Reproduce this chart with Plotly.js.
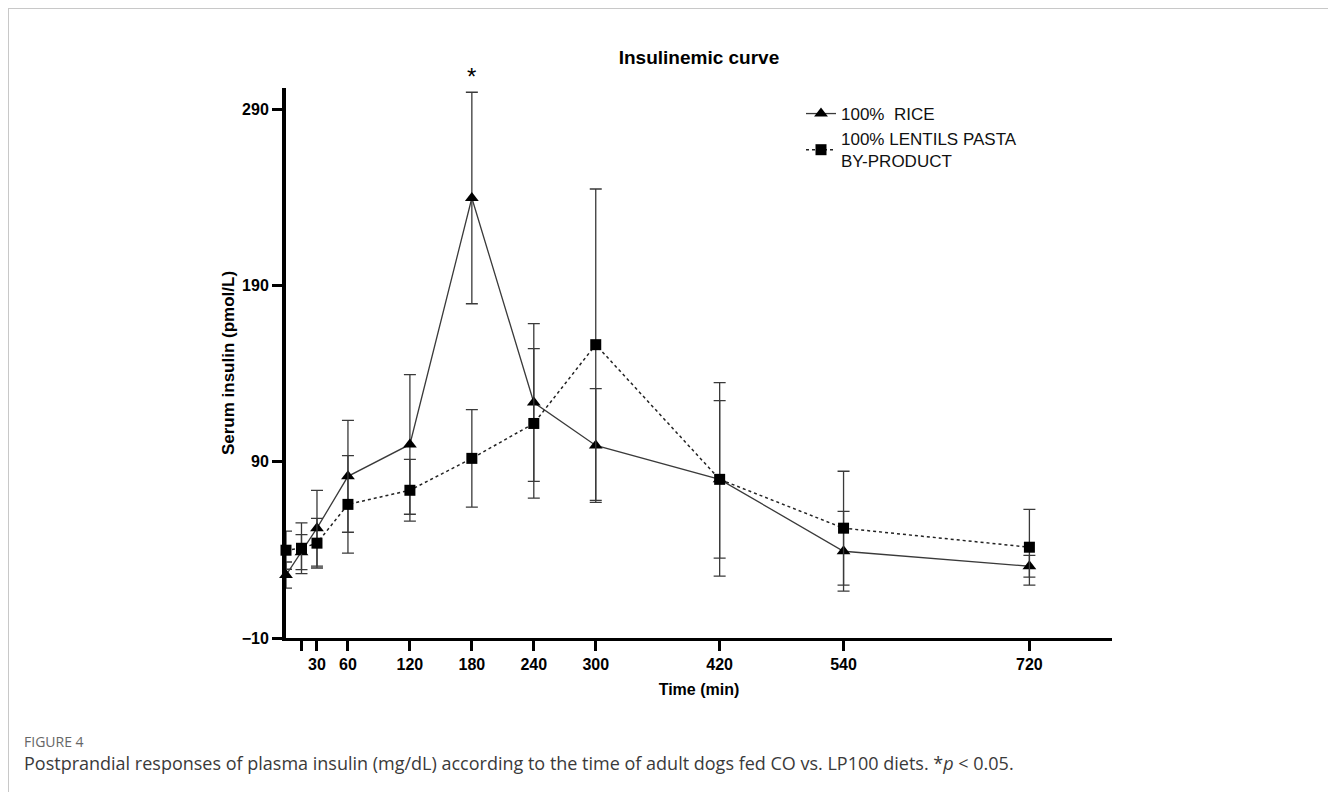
<!DOCTYPE html>
<html>
<head>
<meta charset="utf-8">
<script src="https://cdn.plot.ly/plotly-3.0.1.min.js"></script>
<style>
  html, body { margin: 0; padding: 0; background: #fff; }
  #wrap { position: relative; width: 1328px; height: 792px; overflow: hidden; }
  #chart { position: absolute; left: 0; top: 0; width: 1328px; height: 792px; }
  #frame { position: absolute; left: 8px; top: 8px; width: 1330px; height: 800px; border: 1px solid #c8c8c8; pointer-events: none; }
</style>
</head>
<body>
<div id="wrap">
  <div id="chart"></div>
  <div id="frame"></div>
</div>
<script>
// Time points (min)
const times = [0, 15, 30, 60, 120, 180, 240, 300, 420, 540, 720];
// 100% RICE
const riceMean = [25.7, 38.7, 52.3, 81.7, 99.8, 239.6, 123.6, 99.2, 80.0, 39.2, 30.7];
const riceSD   = [7.4, 9.9, 21.5, 31.7, 39.6, 60.0, 44.7, 32.3, 54.9, 22.6, 6.2];
// 100% LENTILS PASTA BY-PRODUCT
const lentilMean = [39.8, 40.9, 43.8, 65.8, 73.8, 91.9, 111.7, 156.4, 80.0, 52.3, 41.5];
const lentilSD   = [10.8, 14.4, 14.1, 27.7, 17.5, 27.7, 42.4, 88.3, 44.7, 32.3, 21.5];
// Axis ticks
const xTickVals = [15, 30, 60, 120, 180, 240, 300, 420, 540, 720];
const xTickText = ['', '30', '60', '120', '180', '240', '300', '420', '540', '720'];
const yTickVals = [-10, 90, 190, 290];
const seriesNames = ['100%\u00a0 RICE', '100% LENTILS PASTA<br>BY-PRODUCT'];

const AX = 'Liberation Sans, Arial, sans-serif';
const CAP = 'Open Sans, Noto Sans, sans-serif';

const traces = [
  {
    x: times, y: riceMean, name: seriesNames[0], type: 'scatter', mode: 'lines+markers',
    line: {color: '#3a3a3a', width: 1.3, dash: 'solid'},
    marker: {symbol: 'triangle-up', size: 12, color: '#000'},
    error_y: {type: 'data', array: riceSD, visible: true, color: '#3a3a3a', thickness: 1.3, width: 6},
    cliponaxis: false
  },
  {
    x: times, y: lentilMean, name: seriesNames[1], type: 'scatter', mode: 'lines+markers',
    line: {color: '#222', width: 1.5, dash: '3px,3px'},
    marker: {symbol: 'square', size: 11, color: '#000'},
    error_y: {type: 'data', array: lentilSD, visible: true, color: '#3a3a3a', thickness: 1.3, width: 6},
    cliponaxis: false
  }
];

const plotL = 286, plotR = 216, plotT = 88, plotB = 154;
const plotW = 1328 - plotL - plotR, plotH = 792 - plotT - plotB;
function px2paperX(px) { return (px - plotL) / plotW; }
function px2paperY(py) { return (792 - plotB - py) / plotH; }

const layout = {
  width: 1328, height: 792,
  margin: {l: plotL, r: plotR, t: plotT, b: plotB},
  paper_bgcolor: 'rgba(0,0,0,0)',
  plot_bgcolor: 'rgba(0,0,0,0)',
  showlegend: true,
  title: {
    text: '<b>Insulinemic curve</b>',
    font: {family: AX, size: 19, color: '#000'},
    x: 0.5, xref: 'paper', xanchor: 'center',
    y: 1 - 57 / 792, yref: 'container', yanchor: 'middle'
  },
  xaxis: {
    range: [0, 800],
    tickvals: xTickVals, ticktext: xTickText,
    ticks: 'outside', ticklen: 10, tickwidth: 3, tickcolor: '#000',
    showline: true, linewidth: 3, linecolor: '#000',
    showgrid: false, zeroline: false,
    tickfont: {family: AX, size: 16, color: '#000', weight: 'bold'},
    title: {text: '<b>Time (min)</b>', font: {family: AX, size: 16, color: '#000'}, standoff: 12}
  },
  yaxis: {
    range: [-10, 302],
    tickvals: yTickVals,
    ticks: 'outside', ticklen: 10, tickwidth: 3, tickcolor: '#000',
    showline: true, linewidth: 4, linecolor: '#000',
    showgrid: false, zeroline: false,
    tickfont: {family: AX, size: 16, color: '#000', weight: 'bold'},
    title: {text: '<b>Serum insulin (pmol/L)</b>', font: {family: AX, size: 17, color: '#000'}, standoff: 4}
  },
  legend: {
    x: px2paperX(801), y: px2paperY(96), xanchor: 'left', yanchor: 'top',
    bgcolor: 'rgba(0,0,0,0)',
    font: {family: AX, size: 17, color: '#111'},
    itemwidth: 30
  },
  annotations: [
    {x: 180, y: px2paperY(77), xref: 'x', yref: 'paper', text: '*', showarrow: false,
     yanchor: 'middle', font: {family: AX, size: 24, color: '#000'}},
    {x: px2paperX(22), y: px2paperY(741), xref: 'paper', yref: 'paper',
     xanchor: 'left', yanchor: 'middle', text: 'FIGURE 4', showarrow: false,
     font: {family: CAP, size: 14, color: '#666'}},
    {x: px2paperX(22), y: px2paperY(763), xref: 'paper', yref: 'paper',
     xanchor: 'left', yanchor: 'middle',
     text: 'Postprandial responses of plasma insulin (mg/dL) according to the time of adult dogs fed CO vs. LP100 diets. *<i>p</i> &lt; 0.05.',
     showarrow: false,
     font: {family: CAP, size: 18, color: '#3a3a3a'}}
  ]
};

Plotly.newPlot('chart', traces, layout, {displayModeBar: false, staticPlot: true});
</script>
</body>
</html>
